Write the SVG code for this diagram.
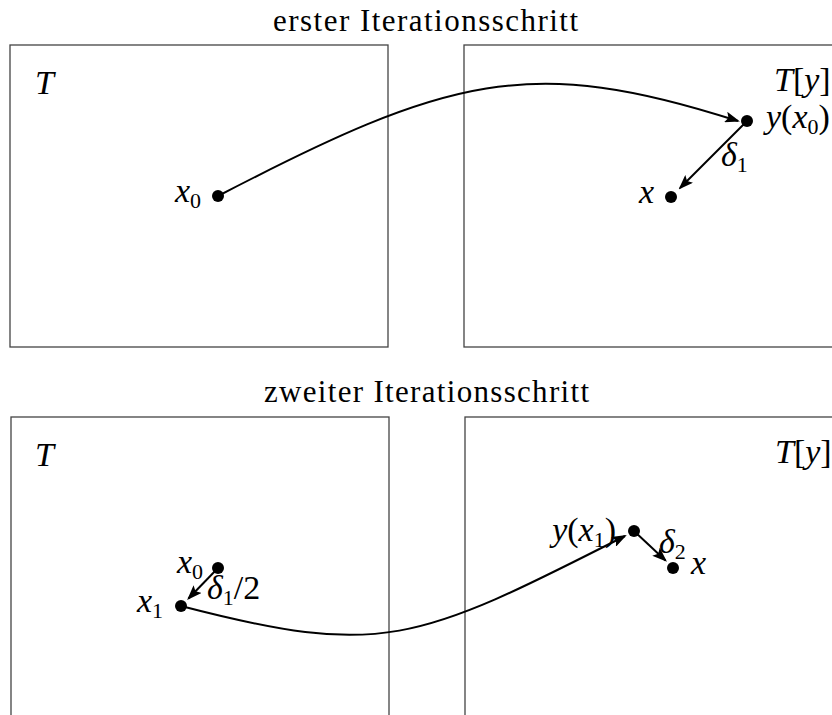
<svg xmlns="http://www.w3.org/2000/svg" width="832" height="715" viewBox="0 0 832 715">
<style>
.bg{fill:#fff}
.box{fill:none;stroke:#444;stroke-width:1.3}
.title{font-family:"Liberation Serif",serif;font-size:31px;fill:#000}
.m{font-family:"Liberation Serif",serif;font-style:italic;font-size:34px;fill:#000}
.r{font-style:normal}
.s{font-size:22px}
.dot{fill:#000}
.con{fill:none;stroke:#000;stroke-width:2}
</style>
<defs>
<marker id="arr" markerUnits="userSpaceOnUse" markerWidth="15" markerHeight="11" viewBox="0 0 15 11" refX="13" refY="5.5" orient="auto">
<path d="M0,0 L15,5.5 L0,11 L3,5.5 z" fill="#000"/>
</marker>
</defs>
<rect class="bg" x="0" y="0" width="832" height="715"/>

<g id="title1"><text class="title" x="273" y="31" textLength="305">erster Iterationsschritt</text></g>
<g id="title2"><text class="title" x="264" y="402" textLength="325">zweiter Iterationsschritt</text></g>

<g id="box1-left"><rect class="box" x="10" y="45" width="378" height="302"/><text class="m" x="35" y="94">T</text></g>
<g id="box1-right"><rect class="box" x="464" y="45" width="380" height="302"/><text class="m" x="774" y="91">T<tspan class="r">[</tspan>y<tspan class="r">]</tspan></text></g>
<g id="box2-left"><rect class="box" x="11" y="417" width="378" height="302"/><text class="m" x="35" y="466">T</text></g>
<g id="box2-right"><rect class="box" x="465" y="417" width="380" height="302"/><text class="m" x="775" y="463">T<tspan class="r">[</tspan>y<tspan class="r">]</tspan></text></g>

<g id="connectors">
<path class="con" d="M218,196 C448,76.4 530,54 738,121" marker-end="url(#arr)"/>
<path class="con" d="M747,121 L680,188" marker-end="url(#arr)"/>
<path class="con" d="M218,568 L188.5,598.5" marker-end="url(#arr)"/>
<path class="con" d="M181,606 C381,658 415,643 625,536" marker-end="url(#arr)"/>
<path class="con" d="M634,531 L665.5,560.5" marker-end="url(#arr)"/>
</g>

<g id="n-x0-top"><circle class="dot" cx="218" cy="196" r="6"/><text class="m" x="201" y="202" text-anchor="end">x<tspan class="s r" dy="6">0</tspan></text></g>
<g id="n-yx0-top"><circle class="dot" cx="747" cy="121" r="6"/><text class="m" x="766" y="128">y<tspan class="r">(</tspan>x<tspan class="s r" dy="6">0</tspan><tspan class="r" dy="-6">)</tspan></text></g>
<g id="n-x-top"><circle class="dot" cx="671" cy="197" r="6"/><text class="m" x="654" y="203" text-anchor="end">x</text></g>
<g id="l-delta1"><text class="m" x="721" y="166">δ<tspan class="s r" dy="6">1</tspan></text></g>

<g id="n-x0-bot"><circle class="dot" cx="218" cy="568" r="6"/><text class="m" x="203" y="573" text-anchor="end">x<tspan class="s r" dy="6">0</tspan></text></g>
<g id="n-x1-bot"><circle class="dot" cx="181" cy="606" r="6"/><text class="m" x="163" y="612" text-anchor="end">x<tspan class="s r" dy="6">1</tspan></text></g>
<g id="l-delta1-2"><text class="m" x="207" y="599">δ<tspan class="s r" dy="6">1</tspan><tspan class="r" dy="-6">/2</tspan></text></g>
<g id="n-yx1-bot"><circle class="dot" cx="634" cy="531" r="6"/><text class="m" x="616" y="541" text-anchor="end">y<tspan class="r">(</tspan>x<tspan class="s r" dy="6">1</tspan><tspan class="r" dy="-6">)</tspan></text></g>
<g id="n-x-bot"><circle class="dot" cx="673" cy="568" r="6"/><text class="m" x="691" y="574">x</text></g>
<g id="l-delta2"><text class="m" x="659" y="553">δ<tspan class="s r" dy="6">2</tspan></text></g>
</svg>
